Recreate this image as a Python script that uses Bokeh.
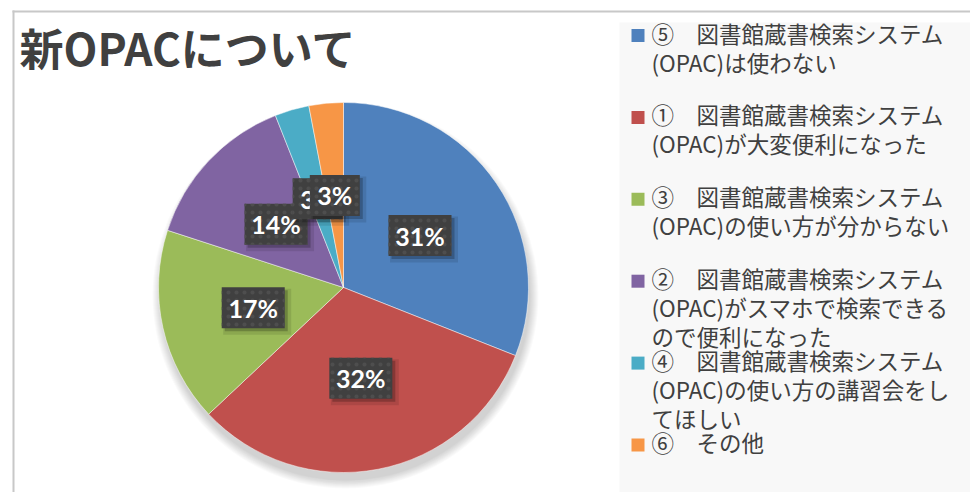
import math
from bokeh.plotting import figure
from bokeh.models import Range1d, ColumnDataSource
from bokeh.core.properties import value
from bokeh.embed import file_html
from bokeh.resources import INLINE

# ---------------- data ----------------
chart_title = "新OPACについて"
legend_lines = [
    ["⑤　図書館蔵書検索システム", "(OPAC)は使わない"],
    ["①　図書館蔵書検索システム", "(OPAC)が大変便利になった"],
    ["③　図書館蔵書検索システム", "(OPAC)の使い方が分からない"],
    ["②　図書館蔵書検索システム", "(OPAC)がスマホで検索できる", "ので便利になった"],
    ["④　図書館蔵書検索システム", "(OPAC)の使い方の講習会をし", "てほしい"],
    ["⑥　その他"],
]
percents = [31, 32, 17, 14, 3, 3]
colors = ["#4F81BD", "#C0504D", "#9BBB59", "#8064A2", "#4BACC6", "#F79646"]

# ---------------- layout ----------------
W, H = 970, 492
SCREEN_H = 500  # data y = SCREEN_H - screen y ; data x = screen x

def sy(y):
    return SCREEN_H - y

p = figure(width=W, height=H, output_backend="svg", toolbar_location=None,
           x_range=Range1d(0, W), y_range=Range1d(SCREEN_H - H, SCREEN_H),
           x_axis_location=None, y_axis_location=None, min_border=0,
           background_fill_color="white", border_fill_color="white")
p.outline_line_color = None
p.grid.visible = False

TXT = "#404040"

# chart border (top and left edges visible)
p.segment(x0=[12, 13], y0=[sy(11), sy(10)], x1=[978, 13], y1=[sy(11), sy(500)],
          line_color="#c8c8c8", line_width=2)

# legend background
p.quad(left=[619], right=[970], top=[sy(22)], bottom=[sy(500)],
       fill_color="#f8f8f8", line_color=None)

# title
p.text(x=[19], y=[sy(46)], text=[chart_title], text_font=value("Noto Sans CJK JP"),
       text_font_style="bold", text_font_size="44px", text_color=TXT,
       text_baseline="middle", text_align="left")

# pie
cx, cy, R = 343, sy(287), 185
# soft shadow (mostly below the pie)
for i in range(9):
    p.circle(x=[cx + 2], y=[cy - 8], radius=R + i, fill_color="black",
             fill_alpha=0.02, line_color=None)

total = float(sum(percents))
cum = 0.0
starts, ends, mids = [], [], []
for v in percents:
    a0 = cum / total
    cum += v
    a1 = cum / total
    starts.append(math.pi / 2 - 2 * math.pi * a1)
    ends.append(math.pi / 2 - 2 * math.pi * a0)
    mids.append(2 * math.pi * (a0 + a1) / 2)

src = ColumnDataSource(dict(start=starts, end=ends, color=colors))
p.wedge(x=cx, y=cy, radius=R, start_angle="start", end_angle="end",
        direction="anticlock", fill_color="color", line_color="white",
        line_alpha=0.6, line_width=0.8, source=src)

# data labels
LR = 0.5 * R
for v, th in zip(percents, mids):
    lab = f"{v}%"
    lx = cx + LR * math.sin(th)
    ly = cy + LR * math.cos(th)
    bw = 13 * len(lab) + 24
    bh = 41
    # shadow
    p.rect(x=[lx + 4], y=[ly - 4], width=bw + 5, height=bh + 5,
           fill_color="black", fill_alpha=0.10, line_color=None)
    p.rect(x=[lx + 3], y=[ly - 3], width=bw, height=bh,
           fill_color="black", fill_alpha=0.22, line_color=None)
    p.rect(x=[lx], y=[ly], width=bw, height=bh, fill_color="#404040",
           line_color=None, hatch_pattern="dot", hatch_color="#4e4e4e",
           hatch_scale=8, hatch_weight=1.5)
    p.text(x=[lx], y=[ly], text=[lab], text_font=value("Lato"),
           text_font_style="bold", text_font_size="25px", text_color="white",
           text_align="center", text_baseline="middle")

# legend
item_y0, item_step, line_step = 35, 81.9, 29
for i, (lines, col) in enumerate(zip(legend_lines, colors)):
    y0 = item_y0 + i * item_step
    p.rect(x=[637.5], y=[sy(y0)], width=13, height=13, fill_color=col, line_color=None)
    ys = [sy(y0 - 3 + j * line_step) for j in range(len(lines))]
    p.text(x=[651] * len(lines), y=ys, text=lines,
           text_font=value("Noto Sans CJK JP"), text_font_size="22.5px",
           text_color=TXT, text_baseline="middle", text_align="left")

open("out.html", "w").write(file_html(p, INLINE))
